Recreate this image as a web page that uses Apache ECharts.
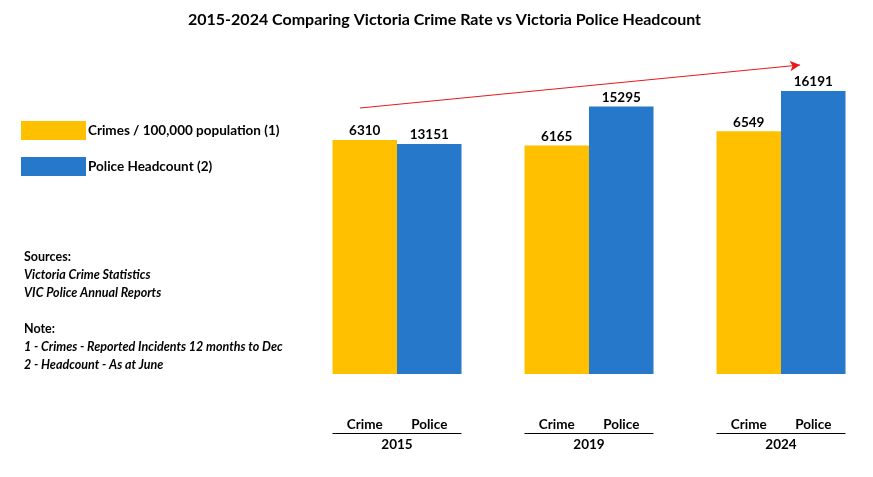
<!DOCTYPE html>
<html>
<head>
<meta charset="utf-8">
<script src="https://cdn.jsdelivr.net/npm/echarts@6/dist/echarts.min.js"></script>
<style>
    html, body { margin: 0; padding: 0; background: #fff; overflow: hidden; }
    #main { width: 880px; height: 477px; }
</style>
</head>
<body>
<div id="main"></div>
<script>
// chart data
var years = ['2015', '2019', '2024'];
var crimeRate = [6310, 6165, 6549];
var policeCount = [13151, 15295, 16191];
var subLabels = ['Crime', 'Police'];
var seriesNames = ['Crimes / 100,000 population (1)', 'Police Headcount (2)'];
var noteLines = ['Victoria Crime Statistics', 'VIC Police Annual Reports'];
var footLines = ['1 - Crimes - Reported Incidents 12 months to Dec', '2 - Headcount - As at June'];

window.onload = () => {
    var chartDom = document.getElementById('main');
    var myChart = echarts.init(chartDom);
    var font = 'Lato';
    var barW = 64.5;
    var option;

    var notesText = '{b|Sources:}\n' + noteLines.map(s => '{i|' + s + '}').join('\n') +
        '\n\n{b|Note:}\n' + footLines.map(s => '{i|' + s + '}').join('\n');

    option = {
        backgroundColor: '#fff',
        animation: false,
        title: [{
            text: '2015-2024 Comparing Victoria Crime Rate vs Victoria Police Headcount',
            left: 183,
            top: 7,
            textStyle: { fontFamily: font, fontSize: 16, fontWeight: 'bold', color: '#000' }
        }, {
            text: notesText,
            left: 19,
            top: 243,
            textStyle: {
                rich: {
                    b: { fontFamily: font, fontSize: 12.5, fontWeight: 'bold', color: '#000', lineHeight: 18 },
                    i: { fontFamily: font, fontSize: 12.5, fontWeight: 'bold', fontStyle: 'italic', color: '#000', lineHeight: 18 }
                }
            }
        }],
        legend: {
            orient: 'vertical',
            left: 16,
            top: 116,
            icon: 'rect',
            itemWidth: 65,
            itemHeight: 19,
            itemGap: 17,
            data: seriesNames,
            textStyle: { fontFamily: font, fontSize: 13.5, fontWeight: 'bold', color: '#000', padding: [0, 0, 0, -3] }
        },
        grid: {
            left: 301,
            right: 3,
            top: 54,
            bottom: 103
        },
        xAxis: [{
            type: 'category',
            data: years,
            axisLine: { show: false },
            axisTick: { show: false },
            axisLabel: { margin: 64, fontFamily: font, fontSize: 13.5, fontWeight: 'bold', color: '#000' }
        }],
        yAxis: [{
            type: 'value', min: 0, max: 8633, show: false, splitLine: { show: false }
        }, {
            type: 'value', min: 0, max: 18300, show: false, splitLine: { show: false }
        }],
        series: [{
                name: seriesNames[0],
                type: 'bar',
                yAxisIndex: 0,
                barWidth: barW,
                barGap: '0%',
                itemStyle: { color: '#FFC000' },
                label: { show: true, position: 'top', distance: 2, fontFamily: font, fontSize: 13.5, fontWeight: 'bold', color: '#000' },
                data: crimeRate
            },
            {
                name: seriesNames[1],
                type: 'bar',
                yAxisIndex: 1,
                barWidth: barW,
                barGap: '0%',
                itemStyle: { color: '#2679CA' },
                label: { show: true, position: 'top', distance: 2, fontFamily: font, fontSize: 13.5, fontWeight: 'bold', color: '#000' },
                markLine: {
                    silent: true,
                    symbol: ['none', 'arrow'],
                    symbolSize: [8, 10],
                    label: { show: false },
                    lineStyle: { color: '#E8191B', width: 1, type: 'solid' },
                    data: [[{ x: 360, y: 108 }, { x: 800, y: 65 }]]
                },
                data: policeCount
            },
            {
                // sub labels + underline under each year
                type: 'custom',
                silent: true,
                yAxisIndex: 0,
                renderItem: function (params, api) {
                    var c = api.coord([api.value(0), 0]);
                    var cx = c[0], y0 = c[1];
                    return {
                        type: 'group',
                        children: [{
                            type: 'line',
                            shape: { x1: cx - barW, y1: y0 + 59.5, x2: cx + barW, y2: y0 + 59.5 },
                            style: { stroke: '#000', lineWidth: 1 }
                        }, {
                            type: 'text',
                            style: {
                                text: subLabels[0], x: cx - barW / 2, y: y0 + 51,
                                textAlign: 'center', textVerticalAlign: 'middle',
                                font: 'bold 13.5px ' + font, fill: '#000'
                            }
                        }, {
                            type: 'text',
                            style: {
                                text: subLabels[1], x: cx + barW / 2, y: y0 + 51,
                                textAlign: 'center', textVerticalAlign: 'middle',
                                font: 'bold 13.5px ' + font, fill: '#000'
                            }
                        }]
                    };
                },
                data: years.map((y, i) => [i])
            }
        ]
    };
    option && myChart.setOption(option);
}
</script>
</body>
</html>
